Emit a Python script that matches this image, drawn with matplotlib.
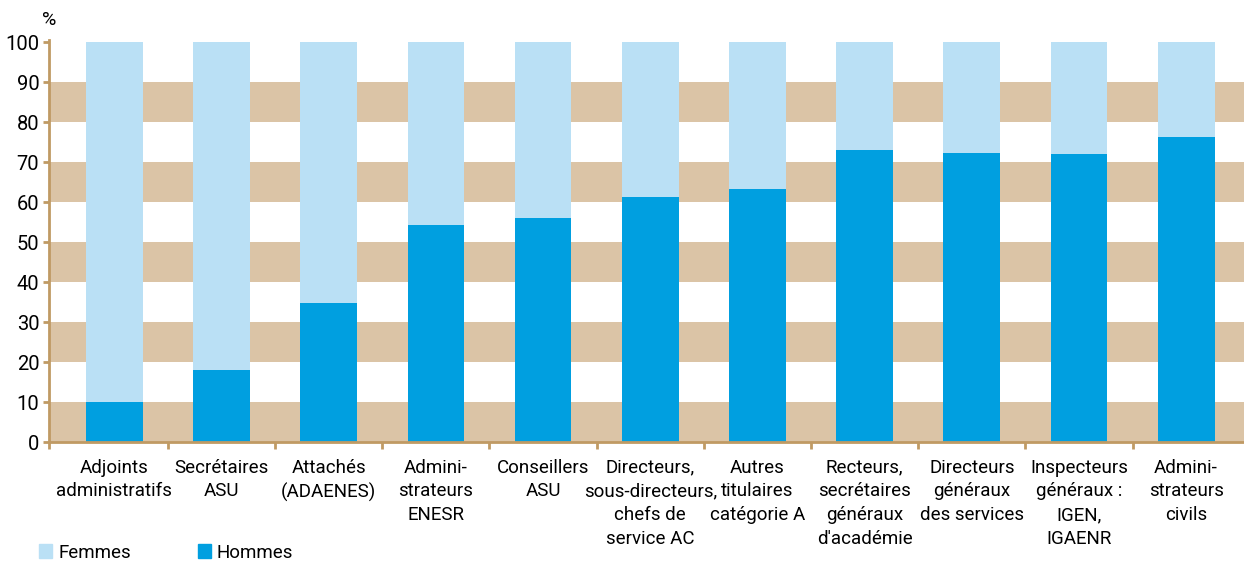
import matplotlib.pyplot as plt
from matplotlib.patches import Patch
from matplotlib import font_manager

categories = [
    "Adjoints\nadministratifs",
    "Secrétaires\nASU",
    "Attachés\n(ADAENES)",
    "Admini-\nstrateurs\nENESR",
    "Conseillers\nASU",
    "Directeurs,\nsous-directeurs,\nchefs de\nservice AC",
    "Autres\ntitulaires\ncatégorie A",
    "Recteurs,\nsecrétaires\ngénéraux\nd'académie",
    "Directeurs\ngénéraux\ndes services",
    "Inspecteurs\ngénéraux :\nIGEN,\nIGAENR",
    "Admini-\nstrateurs\ncivils",
]
hommes = [10, 18, 34.7, 54.4, 56, 61.2, 63.4, 73, 72.2, 72.1, 76.4]
femmes = [100 - h for h in hommes]

names = {f.name for f in font_manager.fontManager.ttflist}
family = "Liberation Sans Narrow" if "Liberation Sans Narrow" in names else "Roboto"
plt.rcParams["font.family"] = [family, "DejaVu Sans"]

tan = "#dbc4a6"
spine = "#c09a64"
c_h = "#009fe0"
c_f = "#bae0f5"

fig = plt.figure(figsize=(12.44, 5.66), dpi=100)
ax = fig.add_axes([0.0394, 0.219, 0.9606, 0.71])

x = list(range(len(categories)))

for lo in range(0, 100, 20):
    ax.axhspan(lo, lo + 10, color=tan, lw=0, zorder=0)

ax.bar(x, hommes, width=0.53, color=c_h, zorder=2)
ax.bar(x, femmes, bottom=hommes, width=0.53, color=c_f, zorder=2)

ax.set_xlim(-0.61, 10.54)
ax.set_ylim(0, 100.5)
ax.set_yticks(range(0, 101, 10))
ax.tick_params(axis="y", labelsize=14.5, color=spine, length=4, width=2, pad=3)

ax.set_xticks([-0.61] + [i + 0.5 for i in range(len(categories) - 1)],
              minor=False)
ax.set_xticklabels([])
ax.tick_params(axis="x", color=spine, length=5, width=2)
ax.set_xticks(x, minor=True)
ax.set_xticklabels(categories, minor=True, fontsize=13.5, linespacing=1.4,
                   va="top")
ax.tick_params(axis="x", which="minor", length=0, pad=12)

for s in ["top", "right"]:
    ax.spines[s].set_visible(False)
for s in ["left", "bottom"]:
    ax.spines[s].set_color(spine)
    ax.spines[s].set_linewidth(2)

fig.text(0.034, 0.955, "%", fontsize=14)

handles = [Patch(color=c_f, label="Femmes"), Patch(color=c_h, label="Hommes")]
fig.legend(handles=handles, loc="lower left", bbox_to_anchor=(0.018, -0.022),
           ncol=2, frameon=False, fontsize=13.5, handlelength=0.7,
           handleheight=0.7, handletextpad=0.3, columnspacing=3.6)

plt.savefig("out.png")
plt.close()
